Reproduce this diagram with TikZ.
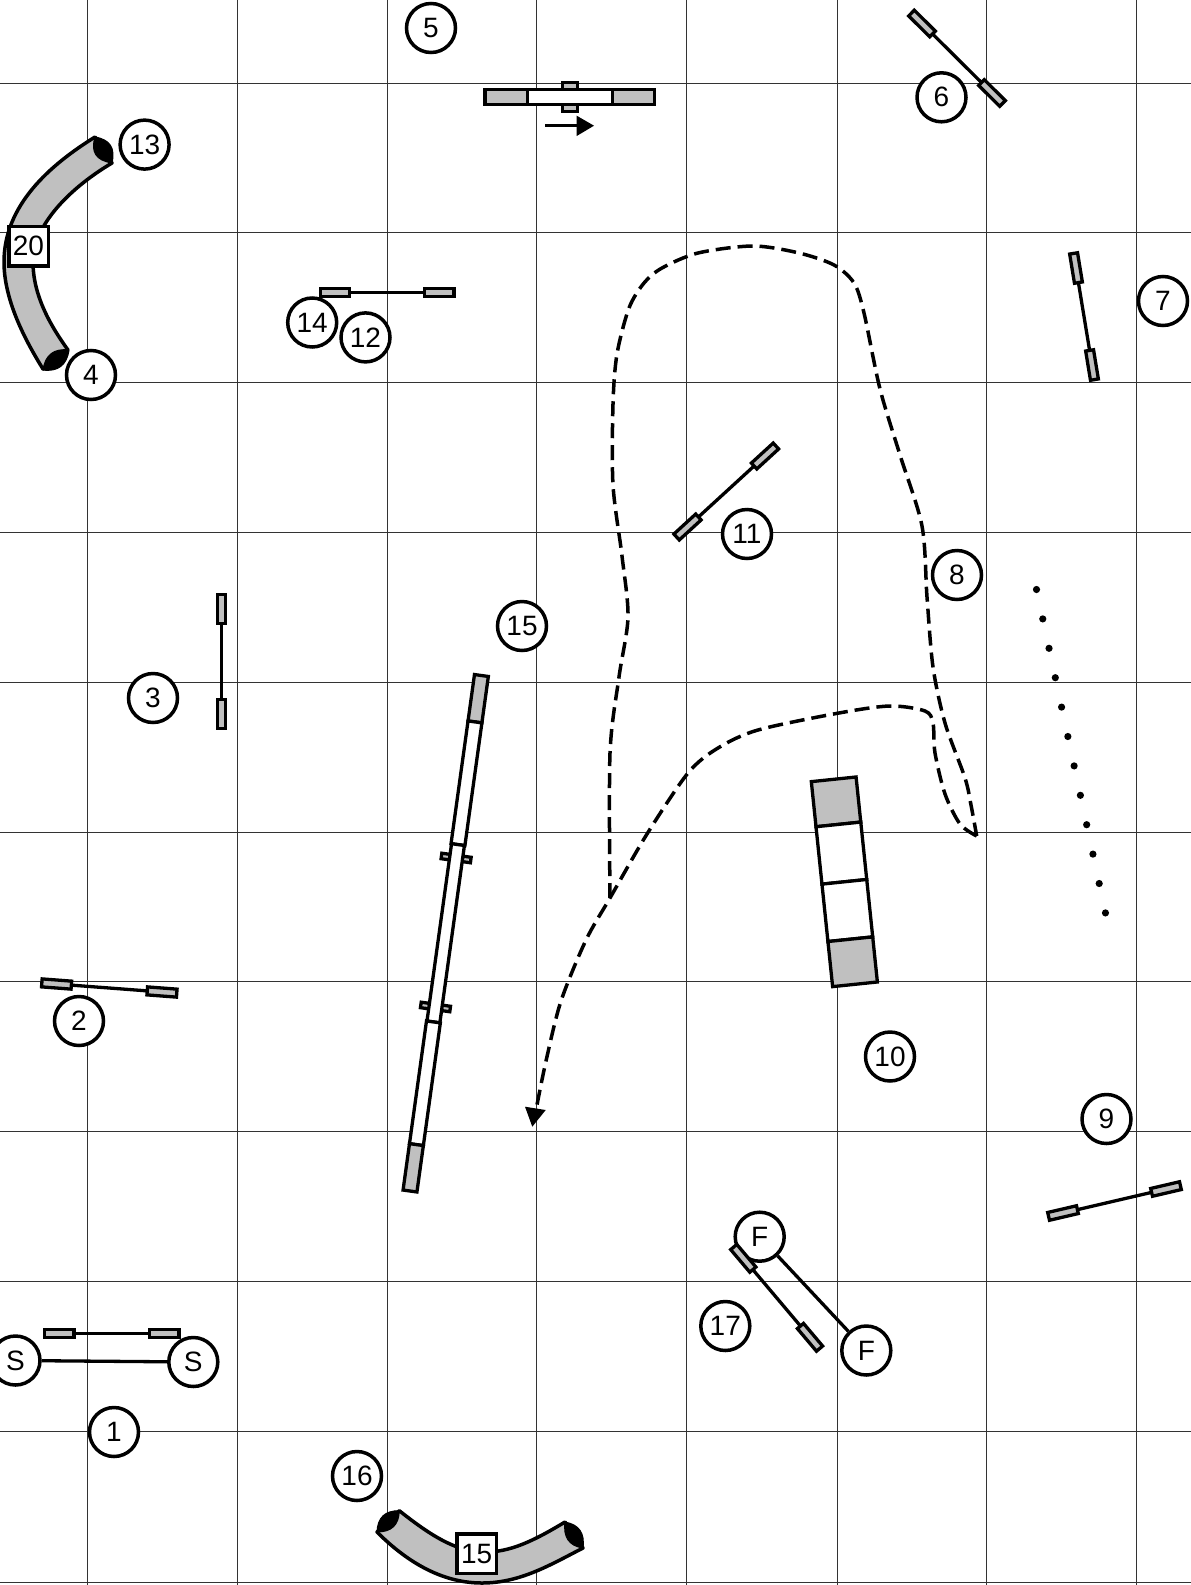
\documentclass[tikz,border=0pt]{standalone}
\usepackage{fontspec}
\setmainfont{Liberation Sans}
\usetikzlibrary{calc}
\definecolor{obst}{HTML}{C0C0C0}
\definecolor{gridc}{HTML}{333333}
\tikzset{
  gridline/.style={draw=gridc,line width=1pt},
  num/.style={circle,draw=black,fill=white,line width=3.5pt,minimum size=49pt,inner sep=0pt,font=\fontsize{28}{30}\selectfont},
  boxnum/.style={rectangle,draw=black,fill=white,line width=3.5pt,minimum size=39.5pt,inner sep=0pt,font=\fontsize{28}{30}\selectfont},
  bar/.style={line width=3.3pt,line join=miter},
  course/.style={line width=3.5pt,dash pattern=on 15pt off 7pt},
  tunnel/.style={draw=black,fill=obst,line width=3.5pt,line join=round}
}
% rectangle along a--b from distance/fraction #3 to #4, half width #5
\newcommand{\segbox}[6]{%
  \coordinate (segz) at ($(#1)!2!(#2)$);
  \draw[bar,fill=#6] ($(#1)!#3!(#2)!#5pt!90:(segz)$) -- ($(#1)!#4!(#2)!#5pt!90:(segz)$) -- ($(#1)!#4!(#2)!-#5pt!90:(segz)$) -- ($(#1)!#3!(#2)!-#5pt!90:(segz)$) -- cycle;}
% jump: bar between wing centres, with two wings
\newcommand{\jumpbar}[5]{%
  \coordinate (#1a) at (#2,#3);
  \coordinate (#1b) at (#4,#5);
  \draw[bar] (#1a) -- (#1b);
  \segbox{#1a}{#1b}{-14.8pt}{14.8pt}{4}{obst}
  \segbox{#1b}{#1a}{-14.8pt}{14.8pt}{4}{obst}}
\begin{document}
\begin{tikzpicture}[x=1pt,y=-1pt]
\useasboundingbox (0,0) rectangle (1191,1585);
\clip (0,0) rectangle (1191,1585);
\fill[white] (0,0) rectangle (1191,1585);
% grid
\foreach \gx in {87,237.5,387,536.5,686.5,837,986,1136} {\draw[gridline] (\gx,0) -- (\gx,1585);}
\foreach \gy in {83,232.7,382,532,682,832,981.7,1131.5,1281,1431,1582} {\draw[gridline] (0,\gy) -- (1191,\gy);}

% tire
\draw[bar,fill=obst] (562.5,82.2) rectangle (577.5,111.8);
\draw[bar,fill=obst] (485,89.8) rectangle (527.3,104.2);
\draw[bar,fill=white] (527.3,89.8) rectangle (612.3,104.2);
\draw[bar,fill=obst] (612.3,89.8) rectangle (654.5,104.2);
\draw[line width=3.5pt] (545,125.7) -- (578,125.7);
\fill (576.7,115.7) -- (594,125.7) -- (576.7,136) -- cycle;

% dog walk
\coordinate (dwa) at (481.4,675.5);
\coordinate (dwb) at (410,1191);
\segbox{dwa}{dwb}{0.3487}{0.3593}{14.8}{obst}
\segbox{dwa}{dwb}{0.6377}{0.6483}{14.8}{obst}
\segbox{dwa}{dwb}{0}{0.09}{7}{obst}
\segbox{dwa}{dwb}{0.09}{0.328}{7}{white}
\segbox{dwa}{dwb}{0.328}{0.672}{6.5}{white}
\segbox{dwa}{dwb}{0.672}{0.91}{7}{white}
\segbox{dwa}{dwb}{0.91}{1}{7}{obst}

% contact plank
\coordinate (pa) at (833.7,779.3);
\coordinate (pb) at (855,984.3);
\segbox{pa}{pb}{0}{0.22}{22.5}{obst}
\segbox{pa}{pb}{0.22}{0.5}{22.5}{white}
\segbox{pa}{pb}{0.5}{0.78}{22.5}{white}
\segbox{pa}{pb}{0.78}{1}{22.5}{obst}

% weave poles
\foreach \i in {0,...,11} {\fill ({1036.5+\i*6.27},{589.5+\i*29.4}) circle (3.6pt);}

% tunnels
\draw[tunnel] (95,137) .. controls (50,165) and (4,205) .. (4,262) .. controls (4,300) and (25,340) .. (43,369)
  -- (68,350) .. controls (50,325) and (33,295) .. (33,262) .. controls (33,225) and (70,188) .. (112,163) -- cycle;
\fill[line join=round,draw=black,line width=1pt] (95,137) .. controls (110,139.5) and (115.5,148) .. (112,163) .. controls (96,160.5) and (90.5,152) .. (95,137);
\fill[line join=round,draw=black,line width=1pt] (43,370) .. controls (58,372) and (67,365) .. (69,350) .. controls (54,348) and (45,355) .. (43,370);
\draw[tunnel] (399.3,1510.7) .. controls (430,1535) and (455,1551) .. (482,1552) .. controls (510,1553) and (535,1540) .. (565,1522)
  -- (583,1548) .. controls (550,1565) and (520,1583) .. (482,1583) .. controls (445,1583) and (410,1565) .. (377,1532) -- cycle;
\fill[line join=round,draw=black,line width=1pt] (377,1532) .. controls (377.5,1517.5) and (385,1510.5) .. (399.3,1510.7) .. controls (399,1525) and (391.5,1532) .. (377,1532);
\fill[line join=round,draw=black,line width=1pt] (565,1522) .. controls (579,1524.5) and (585,1533) .. (583,1548) .. controls (569,1546) and (563,1537) .. (565,1522);

% course
\draw[course] plot[smooth,tension=0.5] coordinates {(610,898)(610,753)(619,677)(628,617)(622,556)(613,485)(613,404)(617,354)(629,308)(644,283)(662,268)(698,253)(753,246)(799,253)(834,265)(854,283)(864,313)(880,389)(900,455)(922,526)(927,597)(933,667)(945,723)(965,778)(971,805)(976.7,836)};
\coordinate (arrowend) at (532.3,1126.7);
\draw[course] plot[smooth,tension=0.5] coordinates {(976.7,836)(960,824)(945,794)(935,753)(933,723)(925,711)(890,706)(839,713)(758,730)(718,748)(688,773)(647,834)(610,898)(586,940)(561,1001)(546,1061)(536,1110)};
\fill (arrowend) -- (525,1106.7) -- (545.7,1110) -- cycle;

% numbers
\node[num] (n5) at (431,28) {5};
\node[num] (n6) at (941.5,97.3) {6};
\node[num] (n13) at (144.6,144.6) {13};
\node[num] (n7) at (1163,301) {7};
\node[num] (n14) at (312.2,322.5) {14};
\node[num] (n12) at (365.5,337.4) {12};
\node[num] (n4) at (91,375) {4};
\node[num] (n11) at (747,534) {11};
\node[num] (n8) at (957,575) {8};
\node[num] (n15) at (522,626) {15};
\node[num] (n3) at (153,698) {3};
\node[num] (n2) at (79,1021) {2};
\node[num] (n10) at (890,1056.5) {10};
\node[num] (n9) at (1106.5,1119) {9};
\node[num] (n17) at (725.3,1326) {17};
\node[num] (n1) at (114,1432) {1};
\node[num] (n16) at (357,1476) {16};
\node[num] (fa) at (759.7,1236.7) {F};
\node[num] (fb) at (866.3,1350.5) {F};
\node[num] (sa) at (15.5,1360.5) {S};
\node[num] (sb) at (193.3,1362) {S};
\draw[bar] (fa) -- (fb);
\draw[bar] (sa) -- (sb);
\node[boxnum] (b20) at (28.5,246) {20};
\node[boxnum] (b15) at (476.7,1553.7) {15};

% jumps
\jumpbar{jb}{56.6}{984}{162}{992}
\jumpbar{jl}{335}{292.3}{439.3}{292.3}
\jumpbar{js}{922}{23.5}{992}{93}
\jumpbar{js2}{1076}{268}{1092}{365}
\jumpbar{je}{687.5}{527}{765}{456}
\jumpbar{jt}{221.5}{609}{221.5}{714}
\jumpbar{jn}{1063}{1213}{1166}{1189}
\jumpbar{jo}{59.3}{1333.3}{164.3}{1333.3}
\jumpbar{jv}{743.3}{1258.3}{810}{1337.3}
\end{tikzpicture}
\end{document}
